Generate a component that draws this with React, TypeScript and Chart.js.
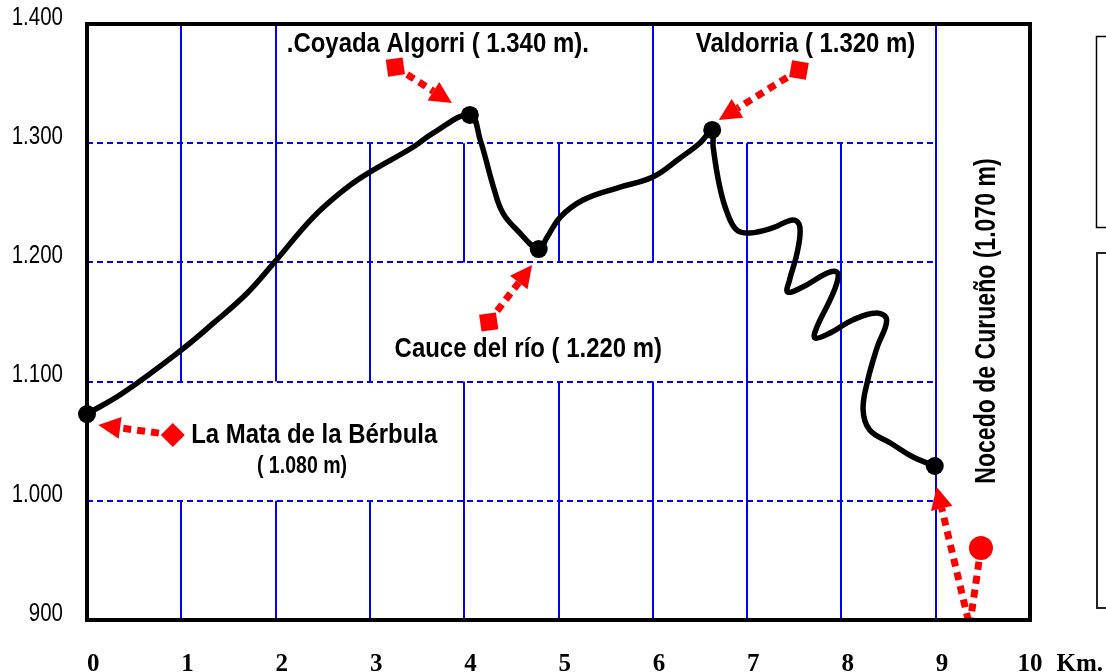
import React, { useEffect, useRef } from 'react';
import { Chart, registerables } from 'chart.js';

Chart.register(...registerables);

// ---- Elevation profile (km, m) ----
const profileKm = [0, 0.38, 1.0, 1.34, 1.7, 1.99, 2.4, 2.76, 3.0, 3.46, 3.67, 4.06, 4.17, 4.31, 4.41, 4.56, 4.79, 4.88, 5.02, 5.26, 5.62, 6.0, 6.29, 6.5, 6.63, 6.64, 6.71, 6.79, 6.89, 7.03, 7.27, 7.49, 7.56, 7.53, 7.45, 7.43, 7.59, 7.85, 7.95, 7.96, 7.88, 7.74, 7.72, 7.88, 8.12, 8.38, 8.48, 8.38, 8.28, 8.23, 8.3, 8.52, 8.76, 8.99];
const profileElev = [1072.8, 1090.4, 1126.5, 1149, 1174.3, 1200.3, 1238, 1263, 1275.8, 1296.8, 1308.5, 1323.7, 1302.7, 1263.3, 1241.4, 1227.2, 1211.2, 1221.3, 1238.1, 1252.3, 1262.4, 1271.6, 1287.6, 1300.2, 1311.1, 1296.8, 1263.3, 1241.4, 1227.2, 1224.7, 1228.9, 1235.6, 1229.7, 1207.9, 1185.2, 1175.2, 1179.4, 1191.1, 1192, 1185.2, 1168.5, 1145.8, 1136.6, 1140.8, 1151.7, 1157.6, 1151.7, 1129, 1101.3, 1076.2, 1059.4, 1048.5, 1036.7, 1029.2];

// Key points (black dots)
const markerKm = [0, 4.06, 4.79, 6.63, 8.99];
const markerElev = [1072.8, 1323.7, 1211.2, 1311.1, 1029.2];

// ---- Axes ----
const yTicks = [900, 1000, 1100, 1200, 1300, 1400];
const yTickLabels = ['900', '1.000', '1.100', '1.200', '1.300', '1.400'];
const xTicks = [0, 1, 2, 3, 4, 5, 6, 7, 8, 9, 10];
const xTickLabels = ['0', '1', '2', '3', '4', '5', '6', '7', '8', '9', '10'];
const xAxisTitle = 'Km.';

// ---- Grid (km, from elevation, to elevation) ----
const vGridSegments = [
  [1, 1100, 1400], [1, 900, 1000],
  [2, 1100, 1400], [2, 900, 1000],
  [3, 1100, 1300], [3, 900, 1000],
  [4, 1200, 1300], [4, 900, 1100],
  [5, 1200, 1300], [5, 900, 1100],
  [6, 1200, 1400], [6, 900, 1100],
  [7, 900, 1300],
  [8, 900, 1300],
  [9, 900, 1400],
];
const hGridElev = [1000, 1100, 1200, 1300];
const hGridEndKm = 9;

// ---- Annotations ----
const labelTexts = ['.Coyada Algorri ( 1.340 m).', 'Valdorria ( 1.320 m)', 'Cauce del río ( 1.220 m)', 'La Mata de la Bérbula'];
const labelKm = [3.72, 7.62, 4.68, 2.41];
const labelElev = [1376.5, 1376.5, 1120.6, 1048.5];
const subLabelText = '( 1.080 m)';
const subLabelKm = 2.28;
const subLabelElev = 1023.3;
const verticalLabelText = 'Nocedo de Curueño (1.070 m)';
const verticalLabelKm = 9.63;
const verticalLabelElev = 1150.8;

// arrows: polyline from tail to tip (km, m)
const arrowMata = [[0.91, 1055.2], [0.12, 1063.6]];
const arrowCoyada = [[3.27, 1363.9], [3.87, 1333.7]];
const arrowValdorria = [[7.55, 1361.4], [6.7, 1319.5]];
const arrowCauce = [[4.26, 1150], [4.72, 1197.8]];
const arrowNocedo = [[9.48, 960.4], [9.36, 895], [9.01, 1011.6]];

const RED = '#ff0000';
const SANS = '"Liberation Sans", Arial, sans-serif';
const SERIF = '"Liberation Serif", "Times New Roman", serif';

function drawText(ctx: CanvasRenderingContext2D, text: string, x: number, y: number, font: string, sx: number, align: CanvasTextAlign, baseline: CanvasTextBaseline, rot = 0) {
  ctx.save();
  ctx.translate(x, y);
  if (rot) ctx.rotate(rot);
  ctx.scale(sx, 1);
  ctx.font = font;
  ctx.textAlign = align;
  ctx.textBaseline = baseline;
  ctx.fillStyle = '#000';
  ctx.fillText(text, 0, 0);
  ctx.restore();
}

function drawArrow(ctx: CanvasRenderingContext2D, pts: { x: number; y: number }[], tail: string, tailRotDeg: number) {
  const n = pts.length;
  const tip = pts[n - 1];
  const prev = pts[n - 2];
  const dx = tip.x - prev.x;
  const dy = tip.y - prev.y;
  const len = Math.hypot(dx, dy);
  const ux = dx / len;
  const uy = dy / len;
  const L = 22;
  const W = 11;
  const base = { x: tip.x - ux * L, y: tip.y - uy * L };
  ctx.save();
  ctx.strokeStyle = RED;
  ctx.fillStyle = RED;
  ctx.lineWidth = 7;
  ctx.lineCap = 'butt';
  ctx.lineJoin = 'bevel';
  ctx.setLineDash([8, 6]);
  ctx.beginPath();
  ctx.moveTo(pts[0].x, pts[0].y);
  for (let i = 1; i < n - 1; i++) ctx.lineTo(pts[i].x, pts[i].y);
  ctx.lineTo(base.x, base.y);
  ctx.stroke();
  ctx.setLineDash([]);
  ctx.beginPath();
  ctx.moveTo(tip.x, tip.y);
  ctx.lineTo(base.x - uy * W, base.y + ux * W);
  ctx.lineTo(base.x + uy * W, base.y - ux * W);
  ctx.closePath();
  ctx.fill();
  if (tail === 'circle') {
    ctx.beginPath();
    ctx.arc(pts[0].x, pts[0].y, 12, 0, Math.PI * 2);
    ctx.fill();
  } else {
    ctx.translate(pts[0].x, pts[0].y);
    ctx.rotate((tailRotDeg * Math.PI) / 180);
    ctx.fillRect(-8.5, -8.5, 17, 17);
  }
  ctx.restore();
}

const decorPlugin = {
  id: 'decor',
  beforeDatasetsDraw(chart: any) {
    const { ctx, chartArea: ca, scales } = chart;
    const x = scales.x;
    const y = scales.y;
    ctx.save();
    ctx.strokeStyle = '#0000ff';
    ctx.lineWidth = 2;
    vGridSegments.forEach(([km, a, b]) => {
      const px = Math.round(x.getPixelForValue(km));
      ctx.beginPath();
      ctx.moveTo(px, y.getPixelForValue(a));
      ctx.lineTo(px, y.getPixelForValue(b));
      ctx.stroke();
    });
    ctx.setLineDash([6, 4]);
    hGridElev.forEach((e) => {
      const py = Math.round(y.getPixelForValue(e));
      ctx.beginPath();
      ctx.moveTo(ca.left, py);
      ctx.lineTo(x.getPixelForValue(hGridEndKm), py);
      ctx.stroke();
    });
    ctx.setLineDash([]);
    ctx.strokeStyle = '#000';
    ctx.lineWidth = 4;
    ctx.strokeRect(ca.left, ca.top, ca.right - ca.left, ca.bottom - ca.top);
    ctx.restore();
  },
  afterDatasetsDraw(chart: any) {
    const { ctx, chartArea: ca, scales } = chart;
    const x = scales.x;
    const y = scales.y;
    const P = (p: number[]) => ({ x: x.getPixelForValue(p[0]), y: y.getPixelForValue(p[1]) });

    ctx.save();
    ctx.beginPath();
    ctx.rect(ca.left + 2, ca.top + 2, ca.right - ca.left - 4, ca.bottom - ca.top - 4);
    ctx.clip();
    drawArrow(ctx, arrowMata.map(P), 'square', 45);
    drawArrow(ctx, arrowCoyada.map(P), 'square', -8);
    drawArrow(ctx, arrowValdorria.map(P), 'square', 10);
    drawArrow(ctx, arrowCauce.map(P), 'square', -8);
    drawArrow(ctx, arrowNocedo.map(P), 'circle', 0);
    ctx.restore();

    labelTexts.forEach((t, i) => {
      drawText(ctx, t, x.getPixelForValue(labelKm[i]), y.getPixelForValue(labelElev[i]), `bold 28px ${SANS}`, 0.855, 'center', 'alphabetic');
    });
    drawText(ctx, subLabelText, x.getPixelForValue(subLabelKm), y.getPixelForValue(subLabelElev), `bold 23px ${SANS}`, 0.85, 'center', 'alphabetic');
    drawText(ctx, verticalLabelText, x.getPixelForValue(verticalLabelKm), y.getPixelForValue(verticalLabelElev), `bold 29px ${SANS}`, 0.795, 'center', 'alphabetic', -Math.PI / 2);

    // y tick labels
    yTicks.forEach((v, i) => {
      drawText(ctx, yTickLabels[i], ca.left - 24, y.getPixelForValue(v) - 6, `25px ${SANS}`, 0.82, 'right', 'middle');
    });

    // x tick labels
    const xFont = `bold 25px ${SERIF}`;
    ctx.save();
    ctx.font = xFont;
    const lastW = ctx.measureText(xTickLabels[xTickLabels.length - 1]).width;
    ctx.restore();
    xTicks.forEach((v, i) => {
      const px = x.getPixelForValue(v);
      const last = i === xTicks.length - 1;
      drawText(ctx, xTickLabels[i], last ? px - lastW / 2 : px, ca.bottom + 51, xFont, 1, 'left', 'alphabetic');
      if (last) drawText(ctx, xAxisTitle, px + lastW / 2 + 14, ca.bottom + 51, xFont, 1, 'left', 'alphabetic');
    });

    // partial boxes at the right edge
    ctx.save();
    ctx.strokeStyle = '#000';
    ctx.lineWidth = 1.5;
    ctx.strokeRect(1096.5, 36.5, 40, 191);
    ctx.strokeStyle = '#222';
    ctx.lineWidth = 2;
    ctx.strokeRect(1097, 253, 40, 355);
    ctx.restore();
  },
};

export default function App() {
  const ref = useRef<HTMLCanvasElement>(null);
  useEffect(() => {
    if (!ref.current) return;
    const chart = new Chart(ref.current, {
      type: 'scatter',
      data: {
        datasets: [
          {
            label: 'Perfil',
            data: profileKm.map((k, i) => ({ x: k, y: profileElev[i] })),
            showLine: true,
            borderColor: '#000',
            borderWidth: 5.5,
            pointRadius: 0,
            tension: 0.4,
            borderCapStyle: 'round',
            borderJoinStyle: 'round',
          } as any,
          {
            label: 'Puntos',
            data: markerKm.map((k, i) => ({ x: k, y: markerElev[i] })),
            showLine: false,
            pointRadius: 9,
            pointBackgroundColor: '#000',
            pointBorderColor: '#000',
            pointBorderWidth: 0,
            clip: false,
          } as any,
        ],
      },
      options: {
        animation: false,
        responsive: false,
        devicePixelRatio: 1,
        layout: { padding: { left: 87, right: 76, top: 24, bottom: 52 } },
        scales: {
          x: { type: 'linear', min: 0, max: 10, display: false },
          y: { type: 'linear', min: 900, max: 1400, display: false },
        },
        plugins: { legend: { display: false }, tooltip: { enabled: false } },
        events: [],
      },
      plugins: [decorPlugin],
    });
    return () => chart.destroy();
  }, []);
  return (
    <div style={{ position: 'fixed', left: 0, top: 0, width: 1106, height: 672, background: '#fff' }}>
      <canvas ref={ref} width={1106} height={672} style={{ display: 'block' }} />
    </div>
  );
}
